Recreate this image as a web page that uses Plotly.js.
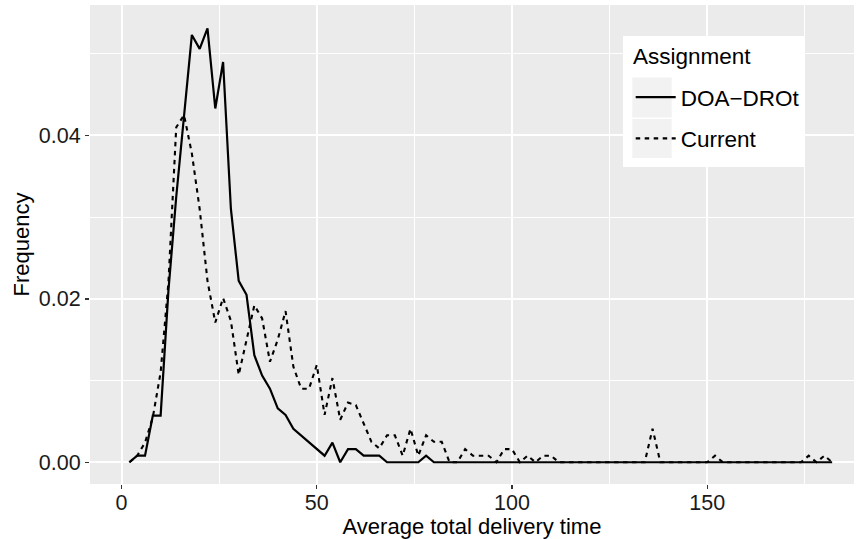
<!DOCTYPE html>
<html>
<head>
<meta charset="utf-8">
<script src="https://cdn.plot.ly/plotly-3.0.1.min.js"></script>
<style>html,body{margin:0;padding:0;background:#ffffff;}</style>
</head>
<body>
<div id="chart" style="width:859px;height:539px;"></div>
<script>
// Bin centres (average total delivery time)
const deliveryTime = [2,4,6,8,10,12,14,16,18,20,22,24,26,28,30,32,34,36,38,40,
  42,44,46,48,50,52,54,56,58,60,62,64,66,68,70,72,74,76,78,80,
  82,84,86,88,90,92,94,96,98,100,102,104,106,108,110,112,114,116,118,120,
  122,124,126,128,130,132,134,136,138,140,142,144,146,148,150,152,154,156,158,160,
  162,164,166,168,170,172,174,176,178,180,182];

// Frequency, assignment DOA-DROt (solid)
const freqDoaDrot = [0,0.0008,0.0008,0.0057,0.0057,0.0210,0.0325,0.0425,0.0523,0.0506,
  0.0531,0.0433,0.0490,0.0310,0.0222,0.0205,0.0131,0.0106,0.0090,0.0066,
  0.0058,0.0041,0.0033,0.0025,0.0017,0.0008,0.0024,0,0.0016,0.0016,
  0.0008,0.0008,0.0008,0,0,0,0,0,0.0008,0,
  0,0,0,0,0,0,0,0,0,0,0,0,0,0,0,0,0,0,0,0,
  0,0,0,0,0,0,0,0,0,0,0,0,0,0,0,0,0,0,0,0,
  0,0,0,0,0,0,0,0,0,0,0];

// Frequency, assignment Current (dashed)
const freqCurrent = [0,0.0008,0.0024,0.0055,0.0110,0.0220,0.0410,0.0425,0.0378,0.0310,
  0.0222,0.0171,0.0201,0.0173,0.0107,0.0150,0.0192,0.0176,0.0123,0.0150,
  0.0185,0.0117,0.0090,0.0090,0.0119,0.0058,0.0103,0.0052,0.0073,0.0070,
  0.0048,0.0025,0.0017,0.0033,0.0033,0.0008,0.0041,0.0008,0.0033,0.0025,
  0.0025,0,0,0.0016,0.0008,0.0008,0.0008,0,0.0016,0.0016,
  0,0.0008,0,0.0008,0.0008,0,0,0,0,0,
  0,0,0,0,0,0,0,0.0041,0,0,
  0,0,0,0,0,0.0008,0,0,0,0,
  0,0,0,0,0,0,0,0.0008,0,0.0008,0];

const seriesNames = ['DOA\u2212DROt', 'Current'];
const legendTitle = 'Assignment';
const xTickVals = [0, 50, 100, 150];
const xTickText = ['0', '50', '100', '150'];
const xMinorVals = [25, 75, 125, 175];
const yTickVals = [0, 0.02, 0.04];
const yTickText = ['0.00', '0.02', '0.04'];
const yMinorVals = [0.01, 0.03, 0.05];

const FONT = 'Liberation Sans, Arial, Helvetica, sans-serif';

const traces = [
  {x: deliveryTime, y: freqDoaDrot, name: seriesNames[0], type: 'scatter', mode: 'lines',
   line: {color: '#000000', width: 2.2, dash: 'solid'}, legendgroup: 'a'},
  {x: deliveryTime, y: freqCurrent, name: seriesNames[1], type: 'scatter', mode: 'lines',
   line: {color: '#000000', width: 2.1, dash: '4.5px,4.5px'}, legendgroup: 'b'}
];

const L = 90, R = 854, T = 5, B = 484;
const px = v => (v - L) / (R - L);
const py = v => (B - v) / (B - T);

const layout = {
  width: 859, height: 539,
  margin: {l: L, r: 859 - R, t: T, b: 539 - B, pad: 0},
  paper_bgcolor: '#ffffff',
  plot_bgcolor: '#EBEBEB',
  font: {family: FONT, color: '#000000'},
  showlegend: true,
  xaxis: {
    range: [-8.09, 187.6],
    tickmode: 'array', tickvals: xTickVals, ticktext: xTickText,
    showgrid: true, gridcolor: '#ffffff', gridwidth: 2,
    zeroline: false, showline: false,
    ticks: 'outside', ticklen: 4, tickwidth: 1.4, tickcolor: '#333333',
    ticklabelstandoff: -5,
    tickfont: {family: FONT, size: 21.5, color: '#1a1a1a'},
    minor: {tickmode: 'array', tickvals: xMinorVals, showgrid: true, gridcolor: '#ffffff', gridwidth: 1, ticks: ''},
    title: {text: 'Average total delivery time', font: {family: FONT, size: 22, color: '#000'}, standoff: 0},
    automargin: false
  },
  yaxis: {
    range: [-0.002665, 0.05597],
    tickmode: 'array', tickvals: yTickVals, ticktext: yTickText,
    showgrid: true, gridcolor: '#ffffff', gridwidth: 2,
    zeroline: false, showline: false,
    ticks: 'outside', ticklen: 4, tickwidth: 1.4, tickcolor: '#333333',
    tickfont: {family: FONT, size: 21.5, color: '#1a1a1a'},
    minor: {tickmode: 'array', tickvals: yMinorVals, showgrid: true, gridcolor: '#ffffff', gridwidth: 1, ticks: ''},
    title: {text: 'Frequency', font: {family: FONT, size: 22, color: '#000'}, standoff: 3},
    automargin: false
  },
  legend: {
    x: px(630.7), y: py(76), xanchor: 'left', yanchor: 'top',
    bgcolor: 'rgba(0,0,0,0)', borderwidth: 0,
    font: {family: FONT, size: 22.5, color: '#000'},
    traceorder: 'grouped', tracegroupgap: 9,
    itemwidth: 40
  },
  annotations: [
    {text: legendTitle, xref: 'paper', yref: 'paper', x: px(631), y: py(56),
     xanchor: 'left', yanchor: 'middle', showarrow: false,
     font: {family: FONT, size: 22.5, color: '#000'}}
  ],
  shapes: [
    {type: 'rect', xref: 'paper', yref: 'paper', x0: px(623), x1: px(804), y0: py(167), y1: py(36),
     fillcolor: '#ffffff', line: {width: 0}, layer: 'above'},
    {type: 'rect', xref: 'paper', yref: 'paper', x0: px(632.3), x1: px(671.7), y0: py(117.5), y1: py(77.5),
     fillcolor: '#F2F2F2', line: {width: 0}, layer: 'above'},
    {type: 'rect', xref: 'paper', yref: 'paper', x0: px(632.3), x1: px(671.7), y0: py(158), y1: py(119),
     fillcolor: '#F2F2F2', line: {width: 0}, layer: 'above'}
  ]
};

Plotly.newPlot('chart', traces, layout, {displayModeBar: false, staticPlot: true});
</script>
</body>
</html>
